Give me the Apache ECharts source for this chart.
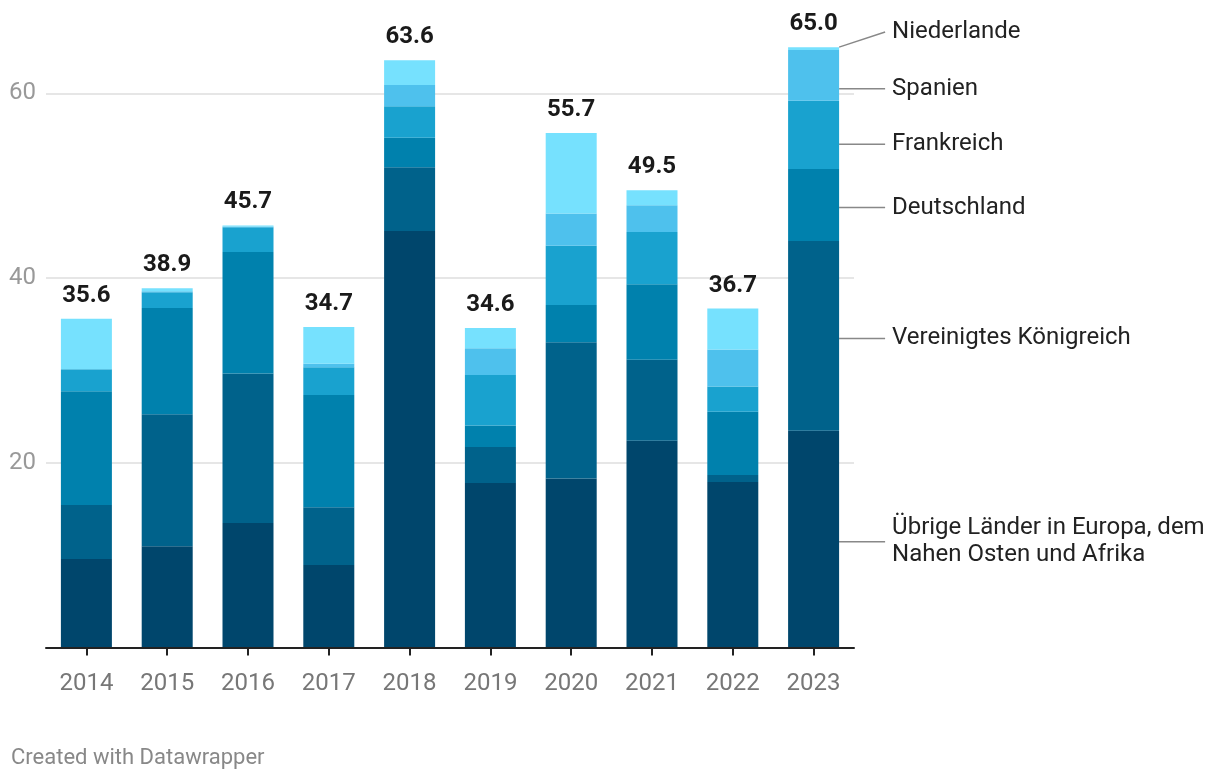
<!DOCTYPE html>
<html>
<head>
<meta charset="utf-8">
<script src="https://cdn.jsdelivr.net/npm/echarts@6/dist/echarts.min.js"></script>
<style>
html,body{margin:0;padding:0;background:#fff;}
#chart{width:1220px;height:780px;}
</style>
</head>
<body>
<div id="chart"></div>
<script>
const years = ['2014','2015','2016','2017','2018','2019','2020','2021','2022','2023'];
const seriesNames = ['Übrige Länder in Europa, dem\nNahen Osten und Afrika','Vereinigtes Königreich','Deutschland','Frankreich','Spanien','Niederlande'];
const uebrige = [9.57, 10.97, 13.47, 8.92, 45.1, 17.8, 18.3, 22.38, 17.93, 23.47];
const uk      = [5.85, 14.3, 16.2, 6.28, 6.9, 3.9, 14.75, 8.79, 0.75, 20.54];
const de      = [12.34, 11.48, 13.16, 12.13, 3.2, 2.35, 4.05, 8.16, 6.84, 7.8];
const fr      = [2.38, 1.73, 2.67, 3.03, 3.4, 5.45, 6.4, 5.65, 2.74, 7.4];
const es      = [0, 0.1, 0.1, 0.36, 2.3, 2.9, 3.5, 2.92, 4.0, 5.5];
const nl      = [5.46, 0.32, 0.1, 3.98, 2.7, 2.2, 8.7, 1.6, 4.44, 0.3];
const totals  = [35.6, 38.9, 45.7, 34.7, 63.6, 34.6, 55.7, 49.5, 36.7, 65.0];
const yTicks  = [0, 20, 40, 60];

const colors = ['#00466c','#00628b','#0081ad','#19a2cf','#4ec1ed','#76e1fe'];
const labelShift = [2.5, 2.5, 2.5, 9.5, 13.5, -16.5];
const seriesValues = [uebrige, uk, de, fr, es, nl];
const FONT = 'Roboto, "Noto Sans", sans-serif';

const barSeries = seriesValues.map((vals, si) => ({
  name: seriesNames[si],
  type: 'bar',
  stack: 'total',
  barWidth: 51,
  itemStyle: { color: colors[si] },
  label: { show: false },
  labelLayout: function (p) {
    if (p.dataIndex === years.length - 1) return { dy: labelShift[si] };
  },
  data: vals.map((v, i) => {
    if (i !== years.length - 1) return v;
    return {
      value: v,
      label: {
        show: true,
        position: 'right',
        distance: 46,
        formatter: seriesNames[si],
        color: '#222',
        fontFamily: FONT,
        fontSize: 24,
        lineHeight: 27,
        align: 'left',
        padding: [0, 0, 0, 7],
        backgroundColor: 'rgba(0,0,0,0)'
      },
      labelLine: { show: true, length2: 0, lineStyle: { color: '#888', width: 1.5 } }
    };
  })
}));

const totalSeries = {
  type: 'scatter',
  symbolSize: 0,
  itemStyle: { color: '#1a1a1a', opacity: 1 },
  z: 5,
  label: {
    show: true,
    position: 'top',
    distance: 11,
    fontFamily: FONT,
    fontWeight: 'bold',
    fontSize: 24,
    color: '#1a1a1a',
    opacity: 1,
    formatter: p => p.value.toFixed(1)
  },
  data: totals
};

const chart = echarts.init(document.getElementById('chart'), null, { renderer: 'canvas' });
chart.setOption({
  animation: false,
  backgroundColor: '#fff',
  textStyle: { fontFamily: FONT },
  title: {
    text: 'Created with Datawrapper',
    left: 11,
    top: 747,
    padding: 0,
    textStyle: { fontFamily: FONT, fontSize: 22, fontWeight: 'normal', color: '#888' }
  },
  grid: { left: 46, right: 366, top: 1.05, bottom: 132.5, containLabel: false },
  xAxis: {
    type: 'category',
    data: years,
    axisLine: { lineStyle: { color: '#222', width: 2 } },
    axisTick: { show: true, alignWithLabel: true, length: 8, lineStyle: { color: '#222', width: 2 } },
    axisLabel: { color: '#777', fontSize: 24, fontFamily: FONT, margin: 24 },
    z: 10
  },
  yAxis: {
    type: 'value',
    min: yTicks[0],
    max: 70,
    interval: yTicks[1] - yTicks[0],
    axisLine: { show: false },
    axisTick: { show: false },
    axisLabel: { color: '#999', fontSize: 24, fontFamily: FONT, margin: 10, showMinLabel: false, showMaxLabel: false },
    splitLine: { showMaxLine: false, lineStyle: { color: '#e6e6e6', width: 2 } }
  },
  series: [...barSeries, totalSeries]
});
</script>
</body>
</html>
